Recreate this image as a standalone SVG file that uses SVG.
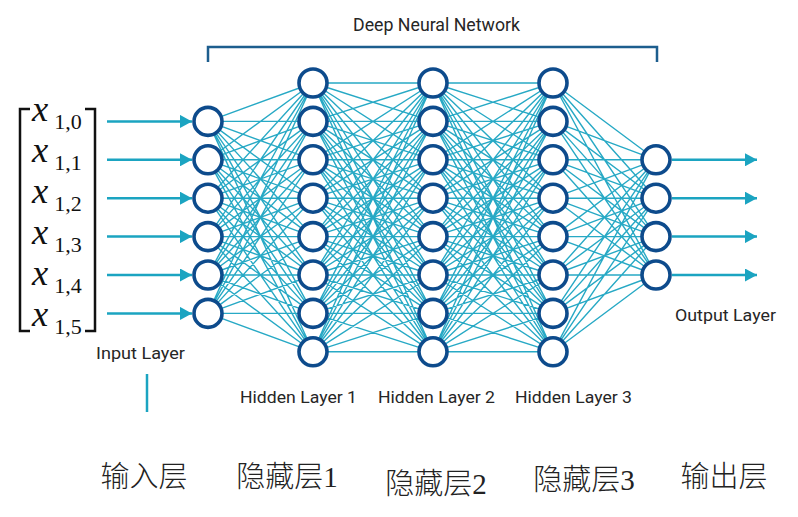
<svg xmlns="http://www.w3.org/2000/svg" width="798" height="517" viewBox="0 0 798 517">
<style>
.lbl{font-family:Roboto,"Liberation Sans",sans-serif;font-size:16.5px;fill:#262626;text-anchor:middle}
.cn{font-family:"Liberation Serif","Noto Sans CJK SC","Noto Sans CJK JP",serif;font-size:29px;font-weight:300;fill:#222;text-anchor:middle}
.mx{font-family:"Liberation Serif",serif;fill:#111}
.mx .v{font-style:italic;font-size:36.5px}
.mx .s{font-size:22px}
.edge{fill:none;stroke:#27a9c5;stroke-width:1.4}
.arrow{fill:none;stroke:#1ba4c1;stroke-width:2.5}
.node circle{fill:#fff;stroke:#0d4b8c;stroke-width:3.6}
</style>
<defs>
<marker id="ah" markerUnits="userSpaceOnUse" markerWidth="12" markerHeight="13" viewBox="0 0 12 13" refX="12" refY="6.5" orient="auto">
<path d="M0 0L12 6.5L0 13z" fill="#1ba4c1"/>
</marker>
<path id="full8" class="edge" d="M0 83L120 83M0 83L120 121.4M0 83L120 159.8M0 83L120 198.2M0 83L120 236.6M0 83L120 275M0 83L120 313.4M0 83L120 351.8M0 121.4L120 83M0 121.4L120 121.4M0 121.4L120 159.8M0 121.4L120 198.2M0 121.4L120 236.6M0 121.4L120 275M0 121.4L120 313.4M0 121.4L120 351.8M0 159.8L120 83M0 159.8L120 121.4M0 159.8L120 159.8M0 159.8L120 198.2M0 159.8L120 236.6M0 159.8L120 275M0 159.8L120 313.4M0 159.8L120 351.8M0 198.2L120 83M0 198.2L120 121.4M0 198.2L120 159.8M0 198.2L120 198.2M0 198.2L120 236.6M0 198.2L120 275M0 198.2L120 313.4M0 198.2L120 351.8M0 236.6L120 83M0 236.6L120 121.4M0 236.6L120 159.8M0 236.6L120 198.2M0 236.6L120 236.6M0 236.6L120 275M0 236.6L120 313.4M0 236.6L120 351.8M0 275L120 83M0 275L120 121.4M0 275L120 159.8M0 275L120 198.2M0 275L120 236.6M0 275L120 275M0 275L120 313.4M0 275L120 351.8M0 313.4L120 83M0 313.4L120 121.4M0 313.4L120 159.8M0 313.4L120 198.2M0 313.4L120 236.6M0 313.4L120 275M0 313.4L120 313.4M0 313.4L120 351.8M0 351.8L120 83M0 351.8L120 121.4M0 351.8L120 159.8M0 351.8L120 198.2M0 351.8L120 236.6M0 351.8L120 275M0 351.8L120 313.4M0 351.8L120 351.8"/>
</defs>
<rect width="798" height="517" fill="#fff"/>

<g id="matrix">
<path d="M30 109H20V331H30M85 109H95V331H85" fill="none" stroke="#111" stroke-width="2.5"/>
<text class="mx"><tspan class="v" x="32" y="121">x</tspan><tspan class="s" dx="6" dy="8">1,0</tspan><tspan class="v" x="32" y="162">x</tspan><tspan class="s" dx="6" dy="8">1,1</tspan><tspan class="v" x="32" y="203">x</tspan><tspan class="s" dx="6" dy="8">1,2</tspan><tspan class="v" x="32" y="244">x</tspan><tspan class="s" dx="6" dy="8">1,3</tspan><tspan class="v" x="32" y="285">x</tspan><tspan class="s" dx="6" dy="8">1,4</tspan><tspan class="v" x="32" y="326">x</tspan><tspan class="s" dx="6" dy="8">1,5</tspan></text>
</g>

<g id="connectors">
<path class="edge" d="M208 121.4L313 83M208 121.4L313 121.4M208 121.4L313 159.8M208 121.4L313 198.2M208 121.4L313 236.6M208 121.4L313 275M208 121.4L313 313.4M208 121.4L313 351.8M208 159.8L313 83M208 159.8L313 121.4M208 159.8L313 159.8M208 159.8L313 198.2M208 159.8L313 236.6M208 159.8L313 275M208 159.8L313 313.4M208 159.8L313 351.8M208 198.2L313 83M208 198.2L313 121.4M208 198.2L313 159.8M208 198.2L313 198.2M208 198.2L313 236.6M208 198.2L313 275M208 198.2L313 313.4M208 198.2L313 351.8M208 236.6L313 83M208 236.6L313 121.4M208 236.6L313 159.8M208 236.6L313 198.2M208 236.6L313 236.6M208 236.6L313 275M208 236.6L313 313.4M208 236.6L313 351.8M208 275L313 83M208 275L313 121.4M208 275L313 159.8M208 275L313 198.2M208 275L313 236.6M208 275L313 275M208 275L313 313.4M208 275L313 351.8M208 313.4L313 83M208 313.4L313 121.4M208 313.4L313 159.8M208 313.4L313 198.2M208 313.4L313 236.6M208 313.4L313 275M208 313.4L313 313.4M208 313.4L313 351.8"/>
<use href="#full8" transform="translate(313 0)"/>
<use href="#full8" transform="translate(433 0)"/>
<path class="edge" d="M553 83L656 159.8M553 83L656 198.2M553 83L656 236.6M553 83L656 275M553 121.4L656 159.8M553 121.4L656 198.2M553 121.4L656 236.6M553 121.4L656 275M553 159.8L656 159.8M553 159.8L656 198.2M553 159.8L656 236.6M553 159.8L656 275M553 198.2L656 159.8M553 198.2L656 198.2M553 198.2L656 236.6M553 198.2L656 275M553 236.6L656 159.8M553 236.6L656 198.2M553 236.6L656 236.6M553 236.6L656 275M553 275L656 159.8M553 275L656 198.2M553 275L656 236.6M553 275L656 275M553 313.4L656 159.8M553 313.4L656 198.2M553 313.4L656 236.6M553 313.4L656 275M553 351.8L656 159.8M553 351.8L656 198.2M553 351.8L656 236.6M553 351.8L656 275"/>
<g class="arrow" marker-end="url(#ah)">
<path d="M107 121.4H192"/><path d="M107 159.8H192"/><path d="M107 198.2H192"/><path d="M107 236.6H192"/><path d="M107 275H192"/><path d="M107 313.4H192"/>
<path d="M672 159.8H757"/><path d="M672 198.2H757"/><path d="M672 236.6H757"/><path d="M672 275H757"/>
</g>
<path d="M147 374V412" stroke="#1ba4c1" stroke-width="2.5"/>
<path d="M208 62V47H657V62" fill="none" stroke="#1d5e8e" stroke-width="2.5"/>
</g>

<g id="input-layer" class="node">
<circle cx="208" cy="121.4" r="14"/><circle cx="208" cy="159.8" r="14"/><circle cx="208" cy="198.2" r="14"/><circle cx="208" cy="236.6" r="14"/><circle cx="208" cy="275" r="14"/><circle cx="208" cy="313.4" r="14"/>
</g>
<g id="hidden-layer-1" class="node">
<circle cx="313" cy="83" r="14"/><circle cx="313" cy="121.4" r="14"/><circle cx="313" cy="159.8" r="14"/><circle cx="313" cy="198.2" r="14"/><circle cx="313" cy="236.6" r="14"/><circle cx="313" cy="275" r="14"/><circle cx="313" cy="313.4" r="14"/><circle cx="313" cy="351.8" r="14"/>
</g>
<g id="hidden-layer-2" class="node">
<circle cx="433" cy="83" r="14"/><circle cx="433" cy="121.4" r="14"/><circle cx="433" cy="159.8" r="14"/><circle cx="433" cy="198.2" r="14"/><circle cx="433" cy="236.6" r="14"/><circle cx="433" cy="275" r="14"/><circle cx="433" cy="313.4" r="14"/><circle cx="433" cy="351.8" r="14"/>
</g>
<g id="hidden-layer-3" class="node">
<circle cx="553" cy="83" r="14"/><circle cx="553" cy="121.4" r="14"/><circle cx="553" cy="159.8" r="14"/><circle cx="553" cy="198.2" r="14"/><circle cx="553" cy="236.6" r="14"/><circle cx="553" cy="275" r="14"/><circle cx="553" cy="313.4" r="14"/><circle cx="553" cy="351.8" r="14"/>
</g>
<g id="output-layer" class="node">
<circle cx="656" cy="159.8" r="14"/><circle cx="656" cy="198.2" r="14"/><circle cx="656" cy="236.6" r="14"/><circle cx="656" cy="275" r="14"/>
</g>

<g id="labels">
<text class="lbl" x="436.5" y="31" style="font-size:17.5px" textLength="167" lengthAdjust="spacingAndGlyphs">Deep Neural Network</text>
<text class="lbl" x="140.5" y="359" textLength="89" lengthAdjust="spacingAndGlyphs">Input Layer</text>
<text class="lbl" x="298.5" y="403" textLength="117" lengthAdjust="spacingAndGlyphs">Hidden Layer 1</text>
<text class="lbl" x="436.5" y="403" textLength="117" lengthAdjust="spacingAndGlyphs">Hidden Layer 2</text>
<text class="lbl" x="573.5" y="403" textLength="117" lengthAdjust="spacingAndGlyphs">Hidden Layer 3</text>
<text class="lbl" x="725.5" y="321" textLength="101" lengthAdjust="spacingAndGlyphs">Output Layer</text>
<text class="cn" x="144" y="487">输入层</text>
<text class="cn" x="287" y="487">隐藏层1</text>
<text class="cn" x="436" y="494">隐藏层2</text>
<text class="cn" x="584" y="490">隐藏层3</text>
<text class="cn" x="724" y="487">输出层</text>
</g>
</svg>
